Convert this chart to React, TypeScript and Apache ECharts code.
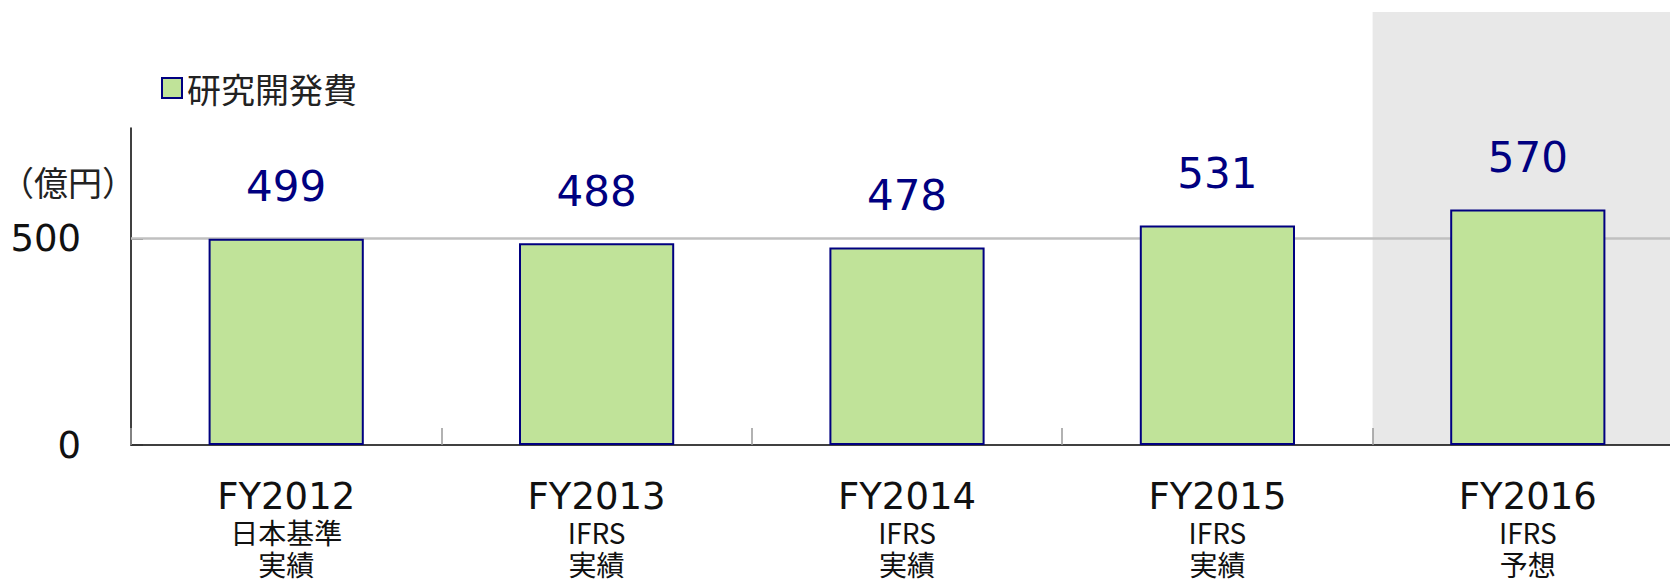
import React, { useEffect, useRef } from "react";
import * as echarts from "echarts";

const categories = ["FY2012", "FY2013", "FY2014", "FY2015", "FY2016"];
const standards = ["日本基準", "IFRS", "IFRS", "IFRS", "IFRS"];
const kinds = ["実績", "実績", "実績", "実績", "予想"];
const rdValues = [499, 488, 478, 531, 570];
const yTicks = [0, 500];
const seriesName = "研究開発費";
const unitLabel = "（億円）";
const forecastCategory = "FY2016";

const NUM_FONT = "'DejaVu Sans', Verdana, sans-serif";
const CJK_FONT = "'Noto Sans CJK JP', 'DejaVu Sans', sans-serif";

export default function App() {
  const ref = useRef<HTMLDivElement>(null);
  useEffect(() => {
    if (!ref.current) return;
    const chart = echarts.init(ref.current, undefined, { renderer: "svg" });
    const option: any = {
      animation: false,
      backgroundColor: "#ffffff",
      grid: { left: 131, top: 128, bottom: 138, width: 1552, outerBoundsMode: "none", containLabel: false },
      legend: {
        data: [seriesName],
        left: 161,
        top: 71,
        padding: 0,
        itemWidth: 20,
        itemHeight: 20,
        icon: "rect",
        textStyle: { fontSize: 34, color: "#222", fontFamily: CJK_FONT },
      },
      xAxis: {
        type: "category",
        data: categories,
        axisLine: { lineStyle: { color: "#000", width: 1.5 } },
        axisTick: { show: true, inside: true, length: 17, lineStyle: { color: "#999", width: 1.5 } },
        axisLabel: {
          margin: 32,
          interval: 0,
          formatter: (v: string, i: number) => `{a|${v}}\n{b|${standards[i]}}\n{b|${kinds[i]}}`,
          rich: {
            a: { fontSize: 37, lineHeight: 39, color: "#111", fontFamily: NUM_FONT },
            b: { fontSize: 28, lineHeight: 32, color: "#111", fontFamily: CJK_FONT },
          },
        },
      },
      yAxis: {
        type: "value",
        min: 0,
        max: 767,
        interval: 500,
        axisLine: { show: true, lineStyle: { color: "#000", width: 1.5 } },
        axisTick: { show: true, inside: true, length: 12, customValues: yTicks, lineStyle: { color: "#333", width: 1.5 } },
        axisLabel: {
          customValues: yTicks,
          margin: 50,
          fontSize: 37,
          color: "#111",
          fontFamily: NUM_FONT,
        },
        splitLine: { show: false },
      },
      series: [
        {
          name: seriesName,
          type: "bar",
          data: rdValues,
          barWidth: "50%",
          z: 3,
          itemStyle: { color: "#C0E399", borderColor: "#000080", borderWidth: 2 },
          label: {
            show: true,
            position: "top",
            distance: 31,
            fontSize: 42,
            color: "#000080",
            fontFamily: NUM_FONT,
          },
          markLine: {
            z: 1,
            silent: true,
            symbol: "none",
            label: { show: false },
            lineStyle: { color: "#C0C0C0", width: 2.5, type: "solid" },
            data: [{ yAxis: 500 }],
          },
        },
      ],
    };
    chart.setOption(option);

    const idx = categories.indexOf(forecastCategory);
    const c0 = chart.convertToPixel({ xAxisIndex: 0 }, categories[0]) as number;
    const c1 = chart.convertToPixel({ xAxisIndex: 0 }, categories[1]) as number;
    const band = c1 - c0;
    const cx = chart.convertToPixel({ xAxisIndex: 0 }, categories[idx]) as number;
    const yBase = chart.convertToPixel({ yAxisIndex: 0 }, 0) as number;
    const top = 12;
    chart.setOption({
      graphic: [
        {
          type: "rect",
          z: -100,
          silent: true,
          shape: { x: cx - band / 2, y: top, width: band, height: yBase - top },
          style: { fill: "#E8E8E8" },
        },
        {
          type: "text",
          left: 0,
          top: 164,
          silent: true,
          style: { text: unitLabel, fontSize: 34, fill: "#222", fontFamily: CJK_FONT },
        },
      ],
    });

    return () => chart.dispose();
  }, []);
  return (
    <div
      ref={ref}
      style={{ position: "fixed", left: 0, top: 0, width: 1670, height: 583 }}
    />
  );
}
